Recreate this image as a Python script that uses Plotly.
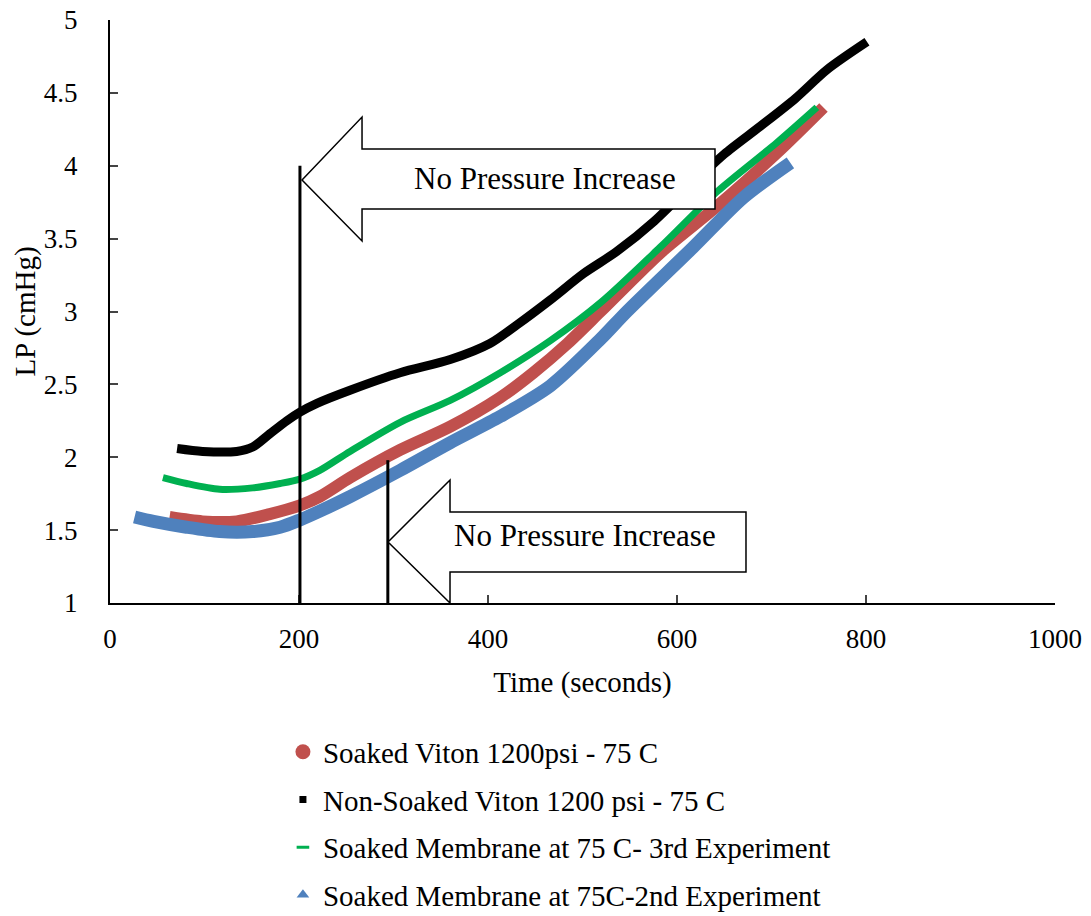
import plotly.graph_objects as go

# ---- data ----
red_t = [63, 98, 134, 169, 201, 222, 254, 307, 360, 413, 448, 484, 519, 582, 642, 706, 755]
red_lp = [1.59, 1.56, 1.56, 1.61, 1.67, 1.73, 1.86, 2.05, 2.21, 2.41, 2.58, 2.78, 3.00, 3.40, 3.72, 4.09, 4.40]

black_t = [71, 98, 134, 151, 169, 187, 201, 219, 254, 307, 360, 402, 431, 466, 501, 536, 576, 617, 650, 688, 725, 759, 801]
black_lp = [2.06, 2.04, 2.04, 2.07, 2.16, 2.25, 2.31, 2.37, 2.46, 2.58, 2.67, 2.78, 2.91, 3.08, 3.26, 3.41, 3.62, 3.88, 4.08, 4.27, 4.46, 4.66, 4.85]

green_t = [56, 81, 116, 151, 180, 201, 222, 254, 307, 360, 413, 466, 519, 582, 642, 706, 748]
green_lp = [1.86, 1.82, 1.78, 1.79, 1.82, 1.85, 1.91, 2.04, 2.24, 2.39, 2.58, 2.80, 3.06, 3.44, 3.82, 4.16, 4.40]

blue_t = [26, 46, 81, 116, 151, 180, 201, 222, 254, 307, 360, 413, 466, 519, 547, 617, 670, 720]
blue_lp = [1.59, 1.56, 1.52, 1.49, 1.49, 1.52, 1.57, 1.63, 1.73, 1.91, 2.10, 2.28, 2.49, 2.81, 3.00, 3.44, 3.78, 4.02]

names = ["Soaked Viton 1200psi - 75 C",
         "Non-Soaked Viton 1200 psi - 75 C",
         "Soaked Membrane at 75 C- 3rd Experiment",
         "Soaked Membrane at 75C-2nd Experiment"]

x_ticks = [0, 200, 400, 600, 800, 1000]
y_ticks = [1, 1.5, 2, 2.5, 3, 3.5, 4, 4.5, 5]

# annotation markers (vertical lines at times)
mark_times = [201, 294]
mark_tops = [4.0, 1.98]

FONT = "Liberation Serif, Times New Roman, serif"

fig = go.Figure()

series = [
    (red_t, red_lp, "#C0504D", 12, "circle", 15),
    (black_t, black_lp, "#000000", 9, "square", 7),
    (green_t, green_lp, "#00B050", 7, "line-ew-open", 9),
    (blue_t, blue_lp, "#4F81BD", 13, "triangle-up", 11),
]

for i, (t, lp, col, w, sym, msz) in enumerate(series):
    fig.add_trace(go.Scatter(x=t, y=lp, mode="lines",
                             line=dict(color=col, width=w, shape="spline", smoothing=0.8),
                             showlegend=False, legendgroup=str(i), hoverinfo="skip"))

for i, (t, lp, col, w, sym, msz) in enumerate(series):
    mk = dict(color=col, size=msz, symbol=sym)
    if sym.startswith("line"):
        mk["line"] = dict(color=col, width=3)
    fig.add_trace(go.Scatter(x=[None], y=[None], mode="markers", marker=mk,
                             name=names[i], legendgroup=str(i), showlegend=True))

shapes = []
for tx, top in zip(mark_times, mark_tops):
    shapes.append(dict(type="line", xref="x", yref="y", x0=tx, x1=tx, y0=1, y1=top,
                       line=dict(color="black", width=3)))

# block arrows (annotation shapes)
def arrow_path(tip_x, tip_y, head_x, head_top, shaft_top, right_x, shaft_bot, head_bot):
    return (f"M {tip_x},{tip_y} L {head_x},{head_top} L {head_x},{shaft_top} L {right_x},{shaft_top} "
            f"L {right_x},{shaft_bot} L {head_x},{shaft_bot} L {head_x},{head_bot} Z")

shapes.append(dict(type="path", xref="x", yref="y",
                   path=arrow_path(203.2, 3.902, 266.7, 4.334, 4.115, 640.2, 3.703, 3.484),
                   fillcolor="white", line=dict(color="black", width=1.5)))
shapes.append(dict(type="path", xref="x", yref="y",
                   path=arrow_path(294.2, 1.419, 359.8, 1.844, 1.624, 673.0, 1.213, 1.0),
                   fillcolor="white", line=dict(color="black", width=1.5)))

annotations = [
    dict(x=460, y=3.91, xref="x", yref="y", text="No Pressure Increase", showarrow=False,
         font=dict(family=FONT, size=31, color="black")),
    dict(x=503, y=1.46, xref="x", yref="y", text="No Pressure Increase", showarrow=False,
         font=dict(family=FONT, size=31, color="black")),
]

fig.update_layout(
    width=1091, height=916,
    margin=dict(l=110, r=36, t=20, b=313, autoexpand=False),
    paper_bgcolor="white", plot_bgcolor="white",
    font=dict(family=FONT, size=27, color="black"),
    shapes=shapes, annotations=annotations,
    legend=dict(x=0.183, y=-0.2117, xanchor="left", yanchor="top",
                font=dict(family=FONT, size=29, color="black"),
                tracegroupgap=7, itemsizing="trace", bgcolor="rgba(0,0,0,0)"),
    xaxis=dict(range=[0, 1000], tickvals=x_ticks, ticks="inside", ticklen=8, tickwidth=2,
               showline=True, linecolor="black", linewidth=2, showgrid=False, zeroline=False,
               tickfont=dict(family=FONT, size=27), ticklabelstandoff=11, automargin=False,
               title=dict(text="Time (seconds)", font=dict(family=FONT, size=29), standoff=18)),
    yaxis=dict(range=[1, 5], tickvals=y_ticks, ticktext=[str(v) for v in y_ticks],
               ticks="inside", ticklen=8, tickwidth=2, ticklabelstandoff=25, automargin=False,
               showline=True, linecolor="black", linewidth=2, showgrid=False, zeroline=False,
               tickfont=dict(family=FONT, size=27),
               title=dict(text="LP (cmHg)", font=dict(family=FONT, size=29), standoff=0)),
)

fig.write_html("out.html")
